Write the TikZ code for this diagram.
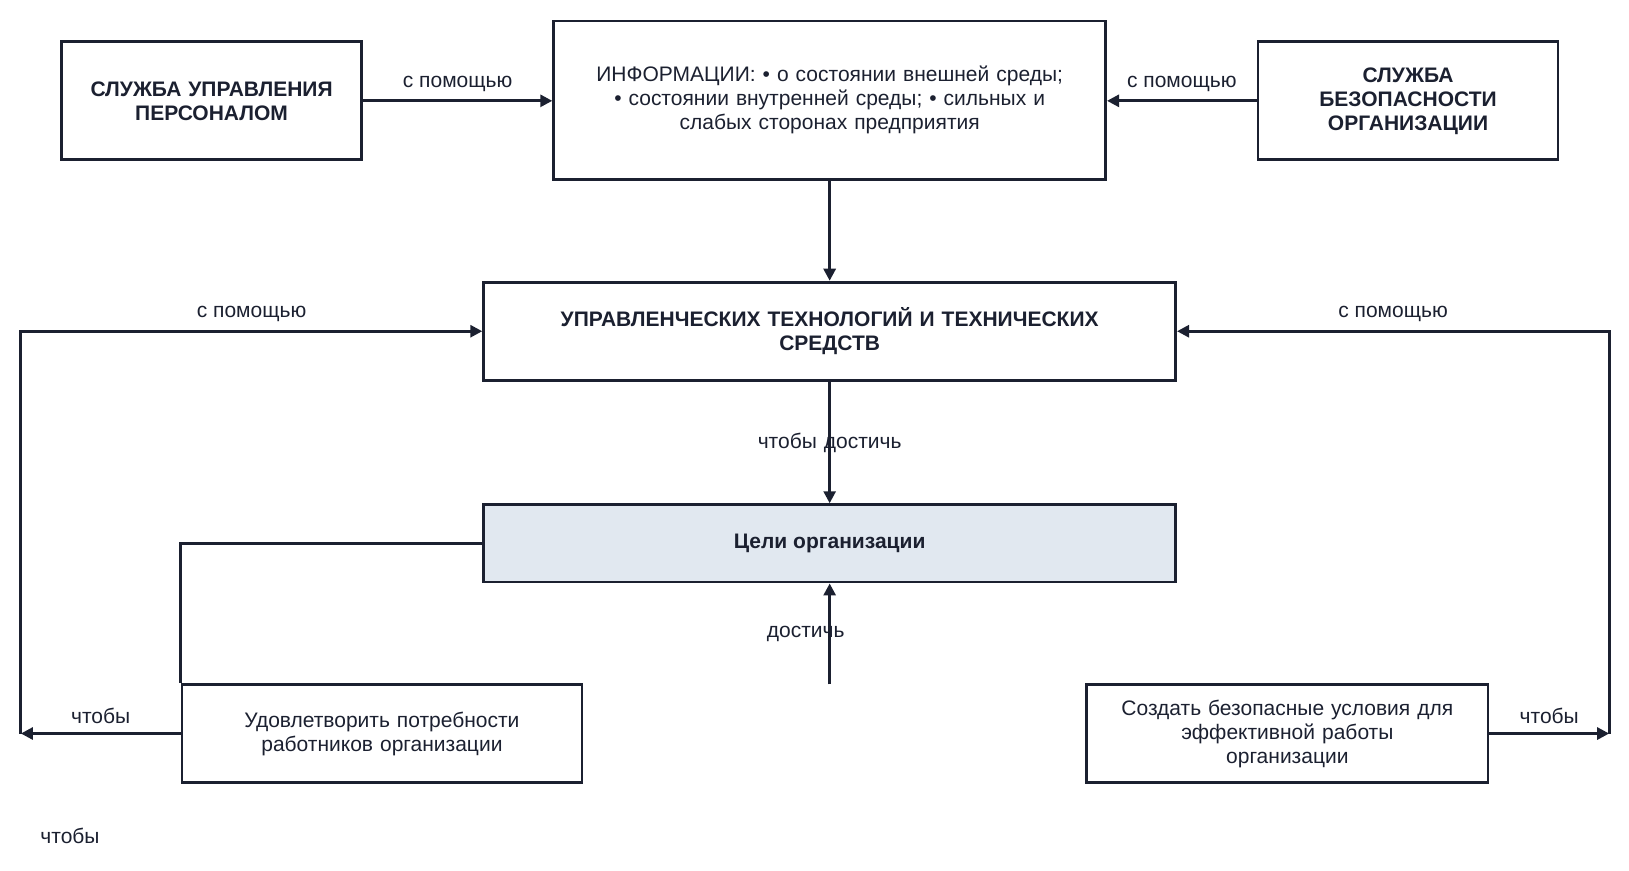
\documentclass[tikz,border=0pt]{standalone}
\usepackage{fontspec}
\setmainfont{Liberation Sans}
\usetikzlibrary{arrows.meta,positioning,calc}
\definecolor{ink}{HTML}{1B2030}
\definecolor{goalfill}{HTML}{E1E8F0}
\tikzset{
  box/.style={draw=ink,line width=1.4pt,inner sep=2pt,align=center,text=ink,font=\fontsize{10.5}{12}\selectfont},
  bbox/.style={box,font=\fontsize{10.5}{12}\selectfont\bfseries},
  conn/.style={draw=ink,line width=1.4pt},
  arr/.style={conn,-{Triangle[length=6pt,width=6pt]}},
  lbl/.style={text=ink,font=\fontsize{10.5}{12}\selectfont,inner sep=1pt}
}
\begin{document}
\begin{tikzpicture}[x=0.5225pt,y=-0.5225pt]
  \useasboundingbox (0,0) rectangle (1559,833);
  % boxes
  \node[bbox,minimum width=150pt,minimum height=59pt,text width=141pt] (hr) at (202.5,96.5) {СЛУЖБА УПРАВЛЕНИЯ\\ПЕРСОНАЛОМ};
  \node[box,minimum width=276pt,minimum height=79.4pt,text width=268pt] (info) at (794,96) {ИНФОРМАЦИИ: • о состоянии внешней среды;\\• состоянии внутренней среды; • сильных и\\слабых сторонах предприятия};
  \node[bbox,minimum width=150pt,minimum height=59pt,text width=141pt] (sec) at (1347.5,96.5) {СЛУЖБА\\БЕЗОПАСНОСТИ\\ОРГАНИЗАЦИИ};
  \node[bbox,minimum width=346pt,minimum height=49.1pt,text width=334pt] (tech) at (794,317) {УПРАВЛЕНЧЕСКИХ ТЕХНОЛОГИЙ И ТЕХНИЧЕСКИХ\\СРЕДСТВ};
  \node[bbox,fill=goalfill,minimum width=346pt,minimum height=38.7pt] (goal) at (794,520) {Цели организации};
  \node[box,minimum width=200pt,minimum height=49.1pt,text width=193pt] (needs) at (365.5,702) {Удовлетворить потребности\\работников организации};
  \node[box,minimum width=200.6pt,minimum height=49.1pt,text width=193pt] (safe) at (1232,702) {Создать безопасные условия для\\эффективной работы\\организации};
  % free ends
  \coordinate (lft) at (20,702);
  \coordinate (rgt) at (1540,702);
  \coordinate (up) at (794,655);
  % connectors
  \draw[arr] (hr.east) -- node[lbl,above=3pt] {с помощью} (hr.east -| info.west);
  \draw[arr] (sec.west) -- node[lbl,above=3pt] {с помощью} (sec.west -| info.east);
  \draw[arr] (info.south) -- (tech.north);
  \draw[arr] (tech.south) -- node[lbl,pos=0.5] {чтобы\,\,достичь} (goal.north);
  \draw[arr] (up) -- node[lbl,pos=0.5,xshift=-12] {достичь} (goal.south);
  \draw[arr] (needs.west) -- node[lbl,above=3pt] {чтобы} (lft);
  \draw[arr] (lft) |- node[lbl,above=3pt,pos=0.75] {с помощью} (tech.west);
  \draw[conn] (goal.west) -| (needs.north west);
  \draw[arr] (safe.east) -- node[lbl,above=3pt] {чтобы} (rgt);
  \draw[arr] (rgt) |- node[lbl,above=3pt,pos=0.75] {с помощью} (tech.east);
  \node[lbl] (extra) at (67,800) {чтобы};
\end{tikzpicture}
\end{document}
